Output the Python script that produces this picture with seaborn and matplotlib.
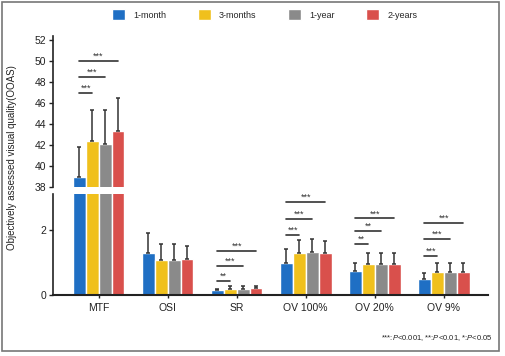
import numpy as np
import pandas as pd
import matplotlib
matplotlib.use('Agg')
import matplotlib.pyplot as plt
import seaborn as sns
from matplotlib.patches import Rectangle

# data
measures = ['MTF', 'OSI', 'SR', 'OV 100%', 'OV 20%', 'OV 9%']
times = ['1-month', '3-months', '1-year', '2-years']
means = {
    '1-month':  [39.0, 1.28, 0.14, 0.97, 0.74, 0.49],
    '3-months': [42.4, 1.08, 0.20, 1.28, 0.94, 0.71],
    '1-year':   [42.1, 1.08, 0.20, 1.31, 0.94, 0.71],
    '2-years':  [43.3, 1.10, 0.22, 1.28, 0.94, 0.71],
}
sds = {
    '1-month':  [2.8, 0.62, 0.06, 0.44, 0.25, 0.18],
    '3-months': [2.9, 0.49, 0.09, 0.41, 0.34, 0.28],
    '1-year':   [3.2, 0.49, 0.09, 0.41, 0.34, 0.28],
    '2-years':  [3.2, 0.41, 0.07, 0.38, 0.34, 0.28],
}
# significance vs 1-month (3-months, 1-year, 2-years) and bracket levels
sig_labels = {
    'MTF':     ['***', '***', '***'],
    'SR':      ['**', '***', '***'],
    'OV 100%': ['***', '***', '***'],
    'OV 20%':  ['**', '**', '***'],
    'OV 9%':   ['***', '***', '***'],
}
sig_levels = {
    'MTF':     [47.0, 48.5, 50.0],
    'SR':      [0.43, 0.90, 1.36],
    'OV 100%': [1.85, 2.33, 2.87],
    'OV 20%':  [1.56, 1.97, 2.35],
    'OV 9%':   [1.21, 1.72, 2.21],
}
colors = ['#1f6fc4', '#f0c01c', '#8a8a8a', '#d9504c']

rows = []
for t in times:
    for m, v, s in zip(measures, means[t], sds[t]):
        rows.append({'measure': m, 'time': t, 'value': v, 'sd': s})
df = pd.DataFrame(rows)

sns.set_style('white')
plt.rcParams['font.family'] = ['Liberation Sans', 'DejaVu Sans']
plt.rcParams['mathtext.fontset'] = 'custom'
plt.rcParams['mathtext.it'] = 'Liberation Sans:italic'
plt.rcParams['mathtext.rm'] = 'Liberation Sans'

fig = plt.figure(figsize=(5.05, 3.56), dpi=100)
ax_top = fig.add_axes([0.105, 0.4747, 0.861, 0.424])
ax_bot = fig.add_axes([0.105, 0.1713, 0.861, 0.2837])

for ax in (ax_top, ax_bot):
    sns.barplot(data=df, x='measure', y='value', hue='time', order=measures,
                hue_order=times, palette=colors, width=0.75, saturation=1,
                errorbar=None, legend=False, ax=ax)
    for cont, t in zip(ax.containers, times):
        for bar, err in zip(cont, sds[t]):
            x = bar.get_x() + bar.get_width() / 2
            h = bar.get_height()
            ax.errorbar(x, h, yerr=[[0], [err]], fmt='none', ecolor='#333333',
                        elinewidth=1.1, capsize=1.6, capthick=1.1)
    ax.set_xlim(-0.66, 5.64)
    ax.set_xlabel('')
    ax.set_ylabel('')

# significance brackets
for ax, group in ((ax_top, ['MTF']), (ax_bot, ['SR', 'OV 100%', 'OV 20%', 'OV 9%'])):
    for m in group:
        i = measures.index(m)
        c0 = ax.containers[0][i]
        x0 = c0.get_x() + c0.get_width() / 2
        for k, (lab, lev) in enumerate(zip(sig_labels[m], sig_levels[m])):
            cb = ax.containers[k + 1][i]
            x1 = cb.get_x() + cb.get_width() / 2
            ax.plot([x0, x1], [lev, lev], color='#333333', lw=1.2, clip_on=False)
            ax.text((x0 + x1) / 2, lev, lab, ha='center', va='bottom',
                    fontsize=6.5, color='#333333')

ax_top.set_ylim(38, 52.38)
ax_top.set_yticks(np.arange(38, 53, 2))
ax_top.set_xticks([])
for s in ('top', 'right', 'bottom'):
    ax_top.spines[s].set_visible(False)

ax_bot.set_ylim(0, 3.1)
ax_bot.set_yticks([0, 2])
for s in ('top', 'right'):
    ax_bot.spines[s].set_visible(False)

for ax in (ax_top, ax_bot):
    ax.spines['left'].set_linewidth(1.2)
    ax.spines['left'].set_color('#222222')
    ax.tick_params(axis='y', direction='out', length=3, width=1, labelsize=7.5,
                   pad=2, left=True, colors='#222222')
ax_bot.spines['bottom'].set_linewidth(1.5)
ax_bot.spines['bottom'].set_color('#222222')
ax_bot.tick_params(axis='x', direction='out', length=2.5, width=1, labelsize=7.5,
                   pad=3, bottom=True, colors='#222222')

fig.text(12 / 505, 1 - 158 / 356, 'Objectively assessed visual quality(OOAS)',
         rotation=90, ha='center', va='center', fontsize=7, color='#222222')

handles = [Rectangle((0, 0), 1, 1, facecolor=c) for c in colors]
fig.legend(handles, times, loc='center', bbox_to_anchor=(0.524, 0.959), ncol=4,
           frameon=False, fontsize=6.5, handlelength=1.45, handleheight=1.6,
           handletextpad=0.9, columnspacing=3.5)

fig.text(493 / 505, 1 - 338 / 356,
         r'***:$\it{P}$<0.001, **:$\it{P}$<0.01, *:$\it{P}$<0.05',
         ha='right', va='center', fontsize=5.5, color='#222222')

fig.patches.append(Rectangle((2 / 505, 5 / 356), 497 / 505, 349 / 356,
                             transform=fig.transFigure, fill=False,
                             edgecolor='#777777', lw=1.2))

fig.savefig('out.png', dpi=100)
